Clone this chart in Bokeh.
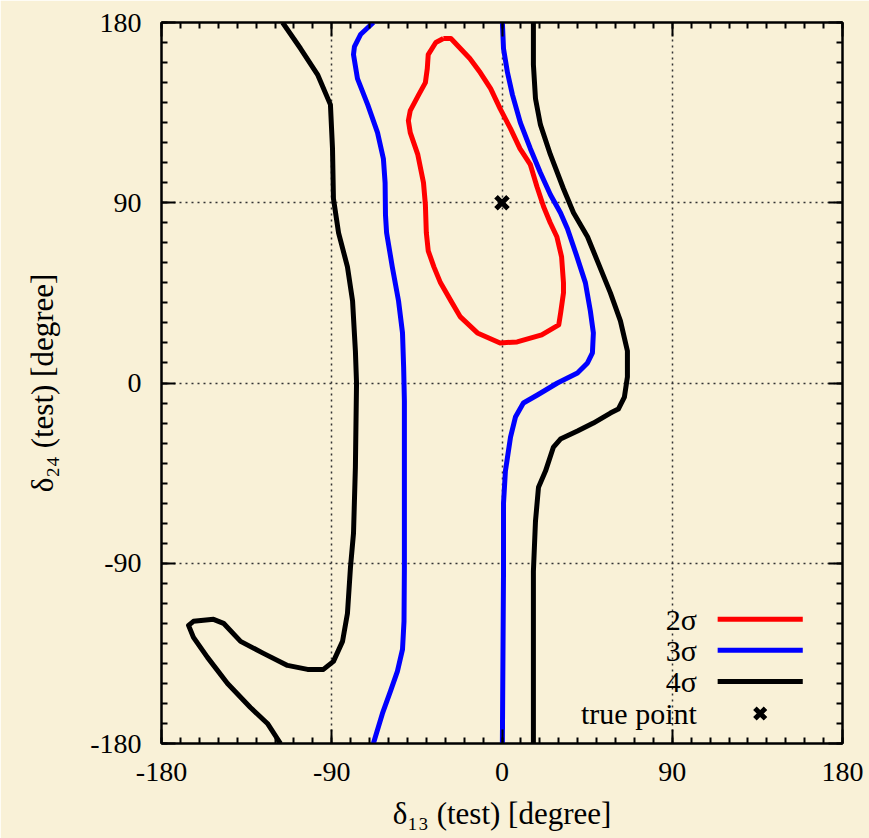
from bokeh.plotting import figure
from bokeh.models import FixedTicker, LinearAxis, Range1d
from bokeh.embed import file_html
from bokeh.resources import INLINE
from bokeh.core.properties import value

# Confidence contours in the (delta_13, delta_24) test plane, degrees
sig2_x = [-31, -27, -22, -17, -11.5, -6, -1, 4.5, 9.5, 15, 18.5, 22, 25.5, 29, 31.5, 32.5, 32.5, 31, 30,
          21, 8, -1, -13, -22, -27, -32.5, -36, -39, -40, -40.5, -41.5, -44.5, -48.5, -49.5, -48.5, -44,
          -40.5, -39.5, -39, -35, -31]
sig2_y = [172, 172, 167, 162, 155, 147, 137, 127, 117, 109, 98, 88, 80, 73, 63, 50, 45, 35, 29,
          24, 20.5, 20, 25, 33, 41, 50, 58, 66, 75, 89, 100, 114, 125, 131, 136, 144,
          150, 157, 164, 170, 172]

sig3_left_x = [-68, -74.8, -78, -78.5, -76.4, -71, -65.8, -62.7, -61.8, -61.6, -61, -58, -54.7, -52.6,
               -52, -51.6, -51.6, -51.6, -51.8, -52.6, -55.3, -59, -63.2, -68]
sig3_left_y = [180, 174, 168, 164, 152, 139, 125, 112, 100, 84, 75, 58, 41, 25,
               8, -9, -42, -92, -119, -133, -144, -154, -165, -180]

sig3_right_x = [0.2, 0.8, 2.9, 5.5, 9.7, 15, 20.3, 25.6, 30.9, 34.6, 39.3, 44.1, 46.7, 48.3, 47.8,
                45.2, 39.9, 29.3, 18.7, 11.3, 7.1, 4.5, 1.8, 0.8, 0.8, 0.2]
sig3_right_y = [180, 167, 155, 144, 130, 117, 105, 94, 85, 77, 64, 50, 36, 25, 15,
                10, 5, 0, -6, -10, -17, -27, -44, -60, -94, -180]

sig4_left_x = [-116, -106.5, -97.5, -90.7, -89.6, -89.1, -86.4, -81.7, -79, -77.5, -76.9, -77.5, -78.5,
               -80.1, -81.7, -84.3, -89.1, -94.4, -102.8, -113.4, -126.1, -138.2, -147.2, -152.5,
               -163.1, -165.7, -163.1, -155.7, -145.1, -133, -124, -117.1]
sig4_left_y = [180, 167, 154, 139, 117, 92, 75, 58, 41, 16, 0, -42, -75,
               -92, -115, -129, -139, -143, -143, -141, -135, -129, -120, -118,
               -119, -121, -127, -137, -150, -162, -170, -180]

sig4_right_x = [16.6, 16.6, 17.7, 20.3, 25.6, 32.5, 37.8, 45.2, 50.4, 57.3, 62.6, 66.3, 66.3, 64.7,
                61.5, 57.3, 48.3, 39.9, 30.9, 27.2, 23, 19.3, 17.7, 16.6, 16.6]
sig4_right_y = [180, 159, 142, 129, 114, 97, 85, 73, 61, 45, 31, 16, 3, -7,
                -13, -15, -20, -24, -28, -32, -44, -52, -69, -94, -180]

true_x = [0]
true_y = [90]

major_ticks = [-180, -90, 0, 90, 180]
tick_labels = {-180: "-180", -90: "-90", 0: "0", 90: "90", 180: "180"}
grid_ticks = [-90, 0, 90]
minor_ticks = list(range(-180, 181, 10))

x_title = "δ₁₃ (test) [degree]"
y_title = "δ₂₄ (test) [degree]"
legend_labels = ["2σ", "3σ", "4σ", "true point"]
legend_colors = ["#ff0000", "#0000ff", "#000000"]

FONT = "Liberation Serif"
BG = "#f9f1d7"

p = figure(width=869, height=838, x_range=Range1d(-180, 180), y_range=Range1d(-180, 180),
           output_backend="svg", toolbar_location=None,
           min_border_left=161, min_border_right=27, min_border_top=22, min_border_bottom=95)
p.background_fill_color = BG
p.border_fill_color = BG
p.outline_line_color = "black"
p.outline_line_width = 2

ticker = FixedTicker(ticks=major_ticks, minor_ticks=minor_ticks)


def style_axis(ax, labels=True):
    ax.ticker = ticker
    ax.axis_line_width = 2
    ax.axis_line_color = "black"
    ax.major_tick_in = 14
    ax.major_tick_out = 0
    ax.minor_tick_in = 6
    ax.minor_tick_out = 0
    ax.major_tick_line_width = 2
    ax.minor_tick_line_width = 2
    ax.major_label_text_font = FONT
    ax.major_label_text_font_size = "28px"
    ax.major_label_text_color = "black"
    ax.axis_label_text_font = FONT
    ax.axis_label_text_font_size = "31px"
    ax.axis_label_text_font_style = "normal"
    ax.axis_label_text_color = "black"
    if labels:
        ax.major_label_overrides = dict(tick_labels)
    else:
        ax.major_label_overrides = {t: "" for t in major_ticks}


for ax in p.xaxis + p.yaxis:
    style_axis(ax)
p.xaxis.axis_label = x_title
p.yaxis.axis_label = y_title
p.xaxis.major_label_standoff = 19
p.yaxis.major_label_standoff = 20
p.xaxis.axis_label_standoff = 12
p.yaxis.axis_label_standoff = 27

top_ax = LinearAxis()
style_axis(top_ax, labels=False)
right_ax = LinearAxis()
style_axis(right_ax, labels=False)
p.add_layout(top_ax, "above")
p.add_layout(right_ax, "right")

for g in (p.xgrid, p.ygrid):
    g.ticker = FixedTicker(ticks=grid_ticks)
    g.grid_line_color = "#333333"
    g.grid_line_dash = "2 4"
    g.grid_line_width = 1.5

LW = 5
p.line(sig2_x, sig2_y, line_color=legend_colors[0], line_width=LW, line_join="round")
p.line(sig3_left_x, sig3_left_y, line_color=legend_colors[1], line_width=LW, line_join="round")
p.line(sig3_right_x, sig3_right_y, line_color=legend_colors[1], line_width=LW, line_join="round")
p.line(sig4_left_x, sig4_left_y, line_color=legend_colors[2], line_width=LW, line_join="round")
p.line(sig4_right_x, sig4_right_y, line_color=legend_colors[2], line_width=LW, line_join="round")
p.scatter(true_x, true_y, marker="x", size=17, line_width=5, line_color="black")

# Key in the lower-right corner: label, then sample line or marker
key_text_x = 103
key_line_x0, key_line_x1 = 114, 159
key_mark_x = 136.5
key_rows = [-118, -133.5, -149, -165]

p.text([key_text_x] * 4, key_rows, text=legend_labels, text_font=value(FONT),
       text_font_size="30px", text_align="right", text_baseline="middle", text_color="black")
p.segment([key_line_x0] * 3, key_rows[:3], [key_line_x1] * 3, key_rows[:3],
          line_color=legend_colors, line_width=LW)
p.scatter([key_mark_x], [key_rows[3]], marker="x", size=15, line_width=5, line_color="black")

open("out.html", "w").write(file_html(p, INLINE))
